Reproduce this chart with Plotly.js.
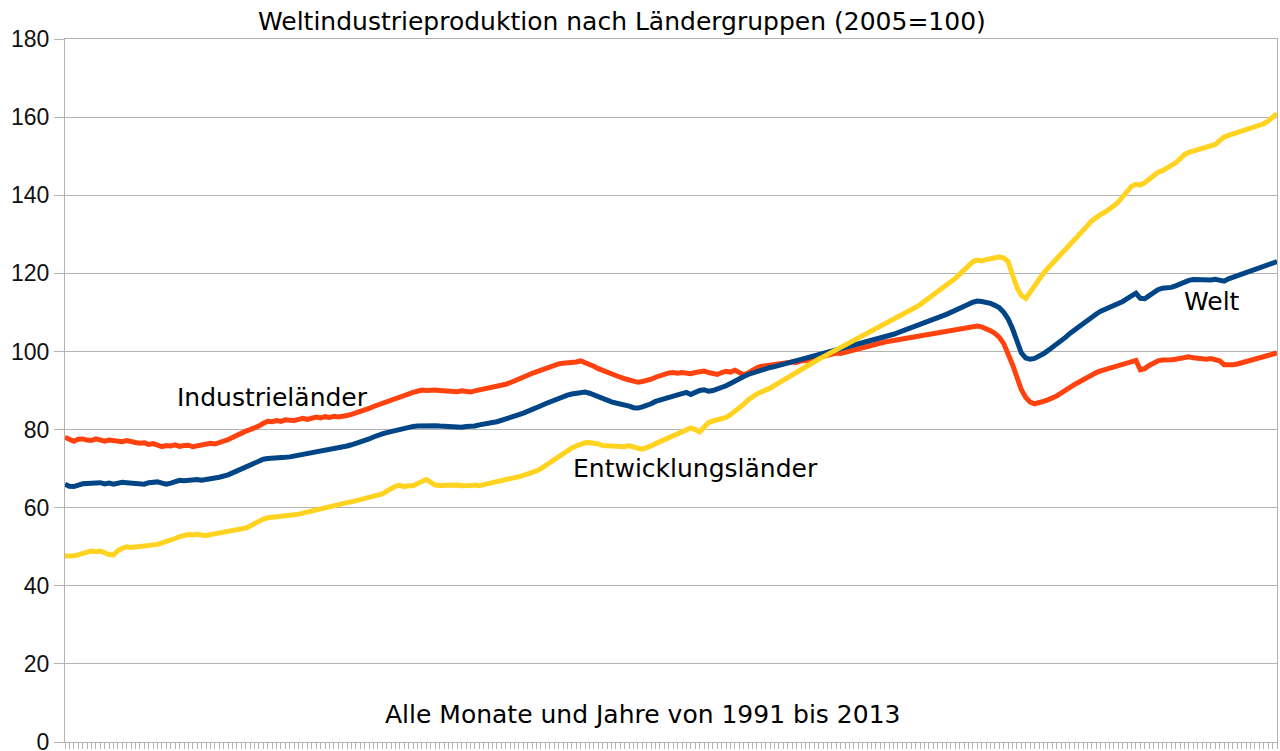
<!DOCTYPE html>
<html>
<head>
<meta charset="utf-8">
<script src="https://cdn.plot.ly/plotly-3.0.1.min.js"></script>
<style>html,body{margin:0;padding:0;background:#fff;}#chart{width:1280px;height:751px;}</style>
</head>
<body>
<div id="chart"></div>
<script>
const years = [1991,1992,1993,1994,1995,1996,1997,1998,1999,2000,2001,2002,2003,2004,2005,2006,2007,2008,2009,2010,2011,2012,2013];
const monthNames = ["01","02","03","04","05","06","07","08","09","10","11","12"];
const yTicks = [0,20,40,60,80,100,120,140,160,180];

// Industrieländer, monthly, 1991-2013
const industrielaender = [
 78.0,77.4,77.0,77.5,77.6,77.3,77.2,77.6,77.4,77.0,77.3,77.2,
 77.0,76.9,77.2,76.8,76.7,76.5,76.6,76.2,76.4,76.0,75.6,75.9,
 75.8,76.1,75.7,75.9,76.0,75.6,75.8,76.0,76.4,76.5,76.3,76.6,
 76.8,77.4,78.0,78.6,79.2,79.6,80.0,80.4,80.9,81.6,82.1,82.0,
 82.3,82.1,82.5,82.4,82.3,82.6,82.9,82.6,82.8,83.2,83.0,83.3,
 83.1,83.4,83.2,83.3,83.6,83.9,84.2,84.6,85.0,85.4,85.9,86.3,
 86.7,87.2,87.5,88.0,88.6,88.9,89.2,89.5,89.8,90.1,90.0,90.2,
 90.1,90.0,89.9,90.0,89.8,89.7,89.9,89.8,89.6,89.9,90.1,90.3,
 90.6,90.8,91.0,91.4,91.6,92.0,92.4,92.9,93.3,93.9,94.4,94.8,
 95.3,95.8,96.2,96.5,96.8,97.0,97.1,97.0,97.3,97.6,97.2,96.6,
 96.2,95.6,95.1,94.6,94.2,93.8,93.4,93.0,92.6,92.3,92.1,92.3,
 92.5,92.9,93.4,93.8,94.2,94.5,94.6,94.4,94.6,94.5,94.3,94.6,
 94.8,95.0,94.6,94.3,94.1,94.6,94.9,94.7,95.2,94.6,94.0,94.5,
 95.2,95.8,96.2,96.4,96.6,96.5,96.8,97.0,97.1,97.3,97.2,97.6,
 97.6,97.9,98.0,98.2,98.6,99.0,99.3,99.6,99.5,99.8,100.3,100.6,
 100.8,101.0,101.3,101.6,101.9,102.1,102.4,102.6,102.8,102.9,103.1,103.2,
 103.3,103.6,103.8,104.0,104.3,104.5,104.8,105.0,105.2,105.4,105.6,105.8,
 106.0,106.2,106.4,106.5,106.3,105.9,105.3,104.6,103.6,102.0,99.6,96.6,
 93.4,90.2,88.2,87.0,86.6,86.8,87.2,87.6,88.0,88.6,89.3,90.1,
 90.9,91.5,92.1,92.8,93.4,94.0,94.6,95.0,95.3,95.6,96.0,96.3,
 96.5,96.9,97.4,97.7,95.3,95.6,96.4,97.0,97.6,97.8,97.7,97.9,
 98.0,98.3,98.4,98.6,98.4,98.2,98.3,98.0,98.2,97.9,97.6,96.6,
 96.5,96.6,96.8,97.1,97.3,97.6,97.8,98.1,98.4,98.7,99.1,99.6
];

// Welt, monthly, 1991-2013
const welt = [
 66.0,65.5,65.4,65.9,66.1,66.2,66.3,66.2,66.4,66.1,66.3,66.0,
 66.3,66.5,66.4,66.3,66.5,66.2,66.0,66.4,66.5,66.6,66.3,66.0,
 66.3,66.8,67.0,66.9,67.1,67.0,67.2,67.0,67.3,67.5,67.6,67.8,
 68.0,68.4,68.9,69.4,69.8,70.3,70.9,71.5,72.0,72.4,72.6,72.6,
 72.7,72.8,72.9,73.0,73.2,73.4,73.6,73.8,74.0,74.2,74.4,74.6,
 74.7,74.9,75.2,75.5,75.8,76.1,76.4,76.8,77.2,77.6,78.1,78.6,
 78.9,79.2,79.5,79.8,80.0,80.3,80.6,80.8,80.9,81.0,81.0,80.9,
 81.0,80.9,80.8,81.0,80.9,80.7,80.6,80.8,80.7,80.9,81.2,81.5,
 81.6,81.8,82.0,82.3,82.6,83.0,83.4,83.8,84.2,84.6,85.1,85.6,
 86.1,86.6,87.1,87.6,88.0,88.4,88.8,89.1,89.3,89.5,89.6,89.3,
 88.8,88.3,87.9,87.5,87.1,86.8,86.6,86.4,86.0,85.6,85.5,85.8,
 86.1,86.6,87.2,87.6,88.0,88.3,88.6,88.9,89.2,89.5,89.0,89.6,
 90.0,90.2,89.8,90.0,90.3,90.7,91.2,91.8,92.5,93.1,93.6,94.1,
 94.5,94.9,95.3,95.6,95.9,96.1,96.4,96.6,96.9,97.2,97.5,97.9,
 98.3,98.6,98.9,99.2,99.5,99.8,100.1,100.4,100.7,101.0,101.3,101.6,
 101.9,102.2,102.5,102.8,103.1,103.4,103.7,104.0,104.4,104.8,105.2,105.6,
 106.0,106.4,106.8,107.2,107.6,108.1,108.5,109.0,109.5,110.0,110.6,111.1,
 111.6,112.1,112.6,112.9,112.8,112.6,112.3,111.8,111.2,110.0,108.3,105.8,
 102.5,99.6,98.3,98.0,98.2,98.7,99.4,100.2,101.0,101.8,102.7,103.6,
 104.6,105.5,106.3,107.2,108.0,108.8,109.6,110.3,110.8,111.1,111.6,112.2,
 112.8,113.5,114.3,114.9,113.6,113.5,114.3,115.1,115.8,116.2,116.2,116.4,
 116.8,117.3,117.8,118.2,118.4,118.3,118.5,118.4,118.3,118.5,118.2,118.0,
 118.6,119.0,119.4,119.8,120.2,120.5,120.8,121.2,121.6,122.0,122.4,123.0
];

// Entwicklungsländer, monthly, 1991-2013
const entwicklungslaender = [
 47.6,47.5,47.7,47.9,48.1,48.6,48.9,48.7,48.9,48.4,48.0,47.9,
 49.0,49.6,50.0,49.8,49.9,50.1,50.0,50.3,50.4,50.6,51.0,51.3,
 51.5,52.1,52.6,53.0,53.1,53.0,53.2,53.0,52.8,53.1,53.3,53.6,
 53.8,53.9,54.1,54.4,54.6,54.8,55.3,56.0,56.6,57.1,57.4,57.5,
 57.6,57.7,57.9,58.1,58.0,58.3,58.6,58.9,59.2,59.5,59.7,59.9,
 60.1,60.4,60.7,61.0,61.3,61.5,61.8,62.1,62.3,62.5,62.7,63.0,
 63.5,64.2,64.9,65.5,65.7,65.4,65.6,65.6,66.2,66.8,67.2,66.5,
 65.8,65.7,65.8,65.6,65.7,65.8,65.6,65.5,65.7,65.8,65.6,65.9,
 66.2,66.5,66.6,66.9,67.2,67.4,67.7,67.9,68.2,68.6,69.0,69.4,
 70.0,70.8,71.6,72.4,73.2,74.0,74.7,75.3,75.8,76.3,76.6,76.7,
 76.6,76.3,75.9,75.8,75.6,75.8,75.5,75.6,75.9,75.4,75.2,75.0,
 75.3,75.8,76.4,76.9,77.4,77.9,78.4,78.9,79.2,79.8,80.4,80.0,
 79.4,80.6,81.8,82.2,82.5,82.8,83.1,83.8,84.6,85.5,86.5,87.6,
 88.5,89.1,89.6,90.0,90.6,91.3,92.0,92.7,93.4,94.1,94.7,95.4,
 96.1,96.8,97.4,98.0,98.6,99.2,99.8,100.4,101.0,101.6,102.2,102.8,
 103.2,103.8,104.4,105.0,105.6,106.2,106.8,107.4,108.0,108.7,109.4,110.1,
 110.6,111.3,112.0,112.8,113.6,114.4,115.2,116.0,116.9,117.7,118.7,119.8,
 121.0,122.1,123.0,123.4,123.2,123.5,123.8,124.1,124.2,123.9,123.0,119.5,
 116.4,114.3,113.6,115.2,117.0,118.6,120.0,121.3,122.5,123.6,124.7,125.8,
 127.0,128.3,129.6,130.9,132.2,133.5,134.5,135.1,135.7,136.4,137.3,138.3,
 139.6,141.0,142.3,142.8,142.6,143.2,144.2,145.3,145.9,146.3,146.9,147.6,
 148.3,149.3,150.4,151.0,151.3,151.5,151.9,152.2,152.5,153.0,154.0,154.9,
 155.3,155.7,156.0,156.3,156.6,157.0,157.4,157.8,158.3,159.0,159.9,160.9
];

const months = [];
years.forEach(y => monthNames.forEach(m => months.push(y + "-" + m)));

const gridCol = "#b3b3b3";
const textFont = "DejaVu Sans, Verdana, sans-serif";
const labelSize = 25;

const traces = [
  {x: months, y: industrielaender, name: "Industrieländer", type: "scatter", mode: "lines",
   line: {color: "#ff420e", width: 5}},
  {x: months, y: welt, name: "Welt", type: "scatter", mode: "lines",
   line: {color: "#004586", width: 5}},
  {x: months, y: entwicklungslaender, name: "Entwicklungsländer", type: "scatter", mode: "lines",
   line: {color: "#ffd320", width: 5}}
];

function label(text, px, py) {
  return {text: text, xref: "paper", yref: "paper",
    x: (px - 65) / 1212, y: (742 - py) / 703, showarrow: false,
    xanchor: "center", yanchor: "middle",
    font: {family: textFont, size: labelSize, color: "#000"}};
}

const layout = {
  width: 1280, height: 751,
  margin: {l: 65, r: 3, t: 39, b: 9, pad: 0},
  paper_bgcolor: "#ffffff", plot_bgcolor: "#ffffff",
  showlegend: false,
  xaxis: {
    type: "category", range: [0, months.length - 1],
    showticklabels: false, ticks: "outside", ticklen: 6, tickcolor: gridCol, tickwidth: 1,
    tickmode: "linear", dtick: 1,
    showgrid: false, zeroline: false,
    showline: true, linecolor: gridCol, linewidth: 1, mirror: true
  },
  yaxis: {
    range: [0, 180], tickvals: yTicks, ticktext: yTicks.map(String),
    ticks: "outside", ticklen: 10, tickcolor: gridCol, tickwidth: 1,
    ticklabeloverflow: "allow",
    showgrid: true, gridcolor: gridCol, gridwidth: 1, zeroline: false,
    showline: true, linecolor: gridCol, linewidth: 1, mirror: true,
    tickfont: {family: "Liberation Sans, Arial, sans-serif", size: 23, color: "#111"}
  },
  annotations: [
    label("Weltindustrieproduktion nach Ländergruppen (2005=100)", 622, 22),
    label("Industrieländer", 272, 397),
    label("Entwicklungsländer", 695, 468),
    label("Welt", 1212, 301),
    label("Alle Monate und Jahre von 1991 bis 2013", 642, 714)
  ]
};

Plotly.newPlot("chart", traces, layout, {displayModeBar: false, staticPlot: true});
</script>
</body>
</html>
